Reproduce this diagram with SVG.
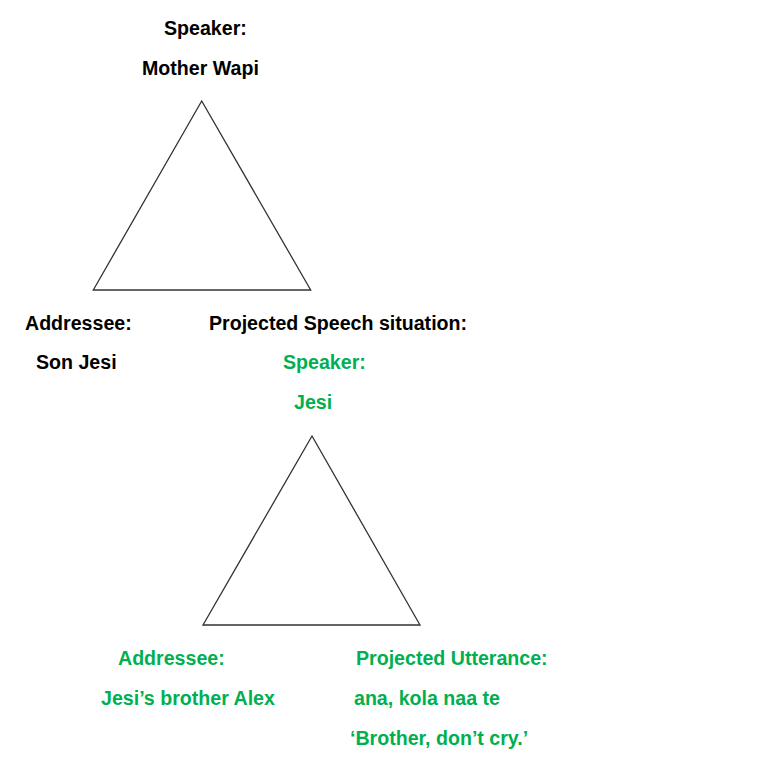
<svg xmlns="http://www.w3.org/2000/svg" width="780" height="767" viewBox="0 0 780 767">
<style>
text{font-family:"Liberation Sans",Arial,sans-serif;font-weight:bold;font-size:19.6px}
.k{fill:#000}
.g{fill:#00B050}
.tri{fill:none;stroke:#333;stroke-width:1.3;stroke-linejoin:miter}
</style>
<rect width="780" height="767" fill="#fff"/>
<g id="speaker1">
<text class="k" x="164" y="35">Speaker:</text>
<text class="k" x="142" y="75">Mother Wapi</text>
</g>
<g id="triangle1"><polygon class="tri" points="201.7,101 93.3,290 310.7,290"/></g>
<g id="addressee1">
<text class="k" x="25" y="330">Addressee:</text>
<text class="k" x="36" y="369">Son Jesi</text>
</g>
<g id="projected">
<text class="k" x="209" y="330">Projected Speech situation:</text>
</g>
<g id="speaker2">
<text class="g" x="283" y="369">Speaker:</text>
<text class="g" x="294" y="409">Jesi</text>
</g>
<g id="triangle2"><polygon class="tri" points="312,436 203,625 420,625"/></g>
<g id="addressee2">
<text class="g" x="118" y="665">Addressee:</text>
<text class="g" x="101" y="705">Jesi’s brother Alex</text>
</g>
<g id="utterance">
<text class="g" x="356" y="665">Projected Utterance:</text>
<text class="g" x="354" y="705">ana, kola naa te</text>
<text class="g" x="350" y="745">‘Brother, don’t cry.’</text>
</g>
<g id="connectors"></g>
</svg>
